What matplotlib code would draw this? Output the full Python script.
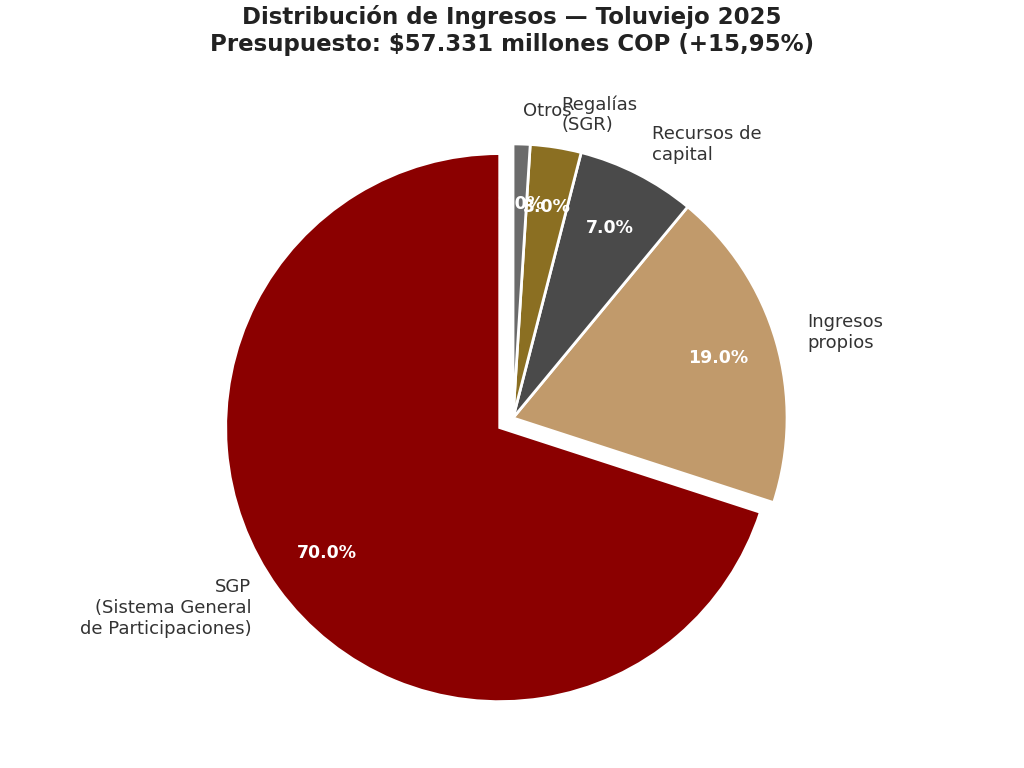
import matplotlib.pyplot as plt

# ------------------------
# Data
# ------------------------

labels = [
    "SGP\n(Sistema General\nde Participaciones)",
    "Ingresos\npropios",
    "Recursos de\ncapital",
    "Regalías\n(SGR)",
    "Otros",
]
shares = [70, 19, 7, 3, 1]
colors = ["#8B0000", "#C19A6B", "#4A4A4A", "#8B6F22", "#6B6B6B"]
explode = [0.06, 0, 0, 0, 0]

# ------------------------
# Plot
# ------------------------

fig = plt.figure(figsize=(10.24, 7.68), dpi=100)
ax = fig.add_axes([0.1665, 0.0098, 0.669, 0.892])

wedges, texts, autotexts = ax.pie(
    shares,
    labels=labels,
    colors=colors,
    explode=explode,
    startangle=90,
    autopct="%1.1f%%",
    pctdistance=0.78,
    labeldistance=1.12,
    wedgeprops=dict(edgecolor="white", linewidth=2),
    textprops=dict(fontsize=13, color="#333333"),
)
for t in autotexts:
    t.set_color("white")
    t.set_fontweight("bold")
    t.set_fontsize(12.5)

ax.set_aspect("equal")
fig.suptitle(
    "Distribución de Ingresos — Toluviejo 2025\nPresupuesto: $57.331 millones COP (+15,95%)",
    fontsize=16.5, fontweight="bold", color="#222222", y=0.993, va="top",
)

fig.savefig("out.png", dpi=100)
